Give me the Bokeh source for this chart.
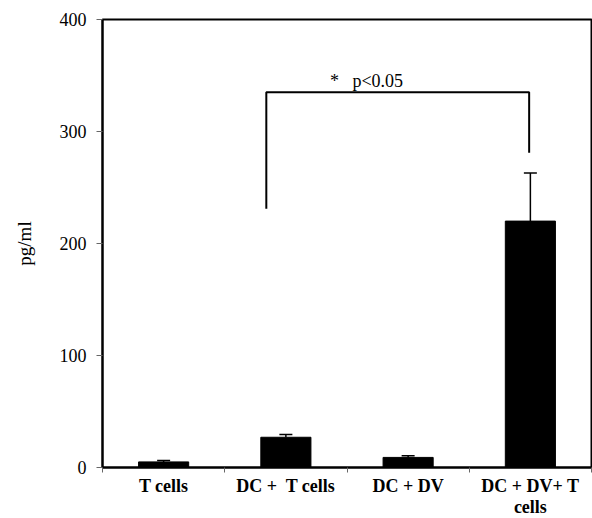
from bokeh.plotting import figure
from bokeh.models import (Range1d, FixedTicker, ColumnDataSource, Whisker, TeeHead)
from bokeh.core.properties import value
from bokeh.embed import file_html
from bokeh.resources import INLINE

categories = ["T cells", "DC +\u00a0 T cells", "DC + DV", "DC + DV+ T\ncells"]
values = [5, 27, 9, 220]
errors = [1.2, 2.5, 1.5, 43]
y_ticks = [0, 100, 200, 300, 400]

# significance bracket (category index, pg/ml)
bracket_x = [1.34, 1.34, 3.49, 3.49]
bracket_y = [231, 335, 335, 281]
sig_text = "*\u00a0\u00a0\u00a0p<0.05"
sig_pos = (1.86, 345)

FONT = "Liberation Serif"

xs = [i + 0.5 for i in range(len(categories))]
src = ColumnDataSource(dict(x=xs, top=values,
                            upper=[v + e for v, e in zip(values, errors)]))

p = figure(frame_width=489, frame_height=448, output_backend="svg",
           toolbar_location=None,
           x_range=Range1d(0, len(categories)), y_range=Range1d(0, 400),
           min_border_left=102, min_border_right=1, min_border_top=19,
           min_border_bottom=0)

p.vbar(x="x", top="top", width=0.41, source=src, fill_color="black",
       line_color="black")

p.add_layout(Whisker(source=src, base="x", lower="top", upper="upper",
                     upper_head=TeeHead(size=13, line_width=1.5, line_color="black"),
                     lower_head=None, line_width=1.5, line_color="black"))

p.line(bracket_x, bracket_y, line_color="black", line_width=2)
p.text(x=[sig_pos[0]], y=[sig_pos[1]], text=[sig_text],
       text_font=value(FONT), text_font_size="18px", text_baseline="alphabetic",
       text_align="left", text_color="black")

p.grid.visible = False
p.outline_line_color = "black"
p.outline_line_width = 2
p.background_fill_color = "white"
p.border_fill_color = "white"

# x axis
xa = p.xaxis[0]
xa.ticker = FixedTicker(ticks=xs, minor_ticks=list(range(len(categories) + 1)))
xa.major_label_overrides = {x: c for x, c in zip(xs, categories)}
xa.major_tick_line_color = None
xa.major_tick_out = 0
xa.major_tick_in = 0
xa.minor_tick_out = 5
xa.minor_tick_in = 0
xa.minor_tick_line_color = "#666666"
xa.axis_line_width = 2
xa.axis_line_color = "black"
xa.major_label_text_font = FONT
xa.major_label_text_font_style = "bold"
xa.major_label_text_font_size = "18px"
xa.major_label_text_line_height = 1.05
xa.major_label_text_color = "black"
xa.major_label_standoff = 3

# y axis
ya = p.yaxis[0]
ya.ticker = FixedTicker(ticks=y_ticks, minor_ticks=[])
ya.major_tick_out = 6
ya.major_tick_in = 0
ya.major_tick_line_color = "#666666"
ya.axis_line_width = 2
ya.axis_line_color = "black"
ya.major_label_text_font = FONT
ya.major_label_text_font_size = "18px"
ya.major_label_text_color = "black"
ya.major_label_standoff = 10
ya.axis_label = "pg/ml"
ya.axis_label_text_font = FONT
ya.axis_label_text_font_size = "19px"
ya.axis_label_text_font_style = "normal"
ya.axis_label_text_color = "black"
ya.axis_label_standoff = 22

open("out.html", "w").write(file_html(p, INLINE))
